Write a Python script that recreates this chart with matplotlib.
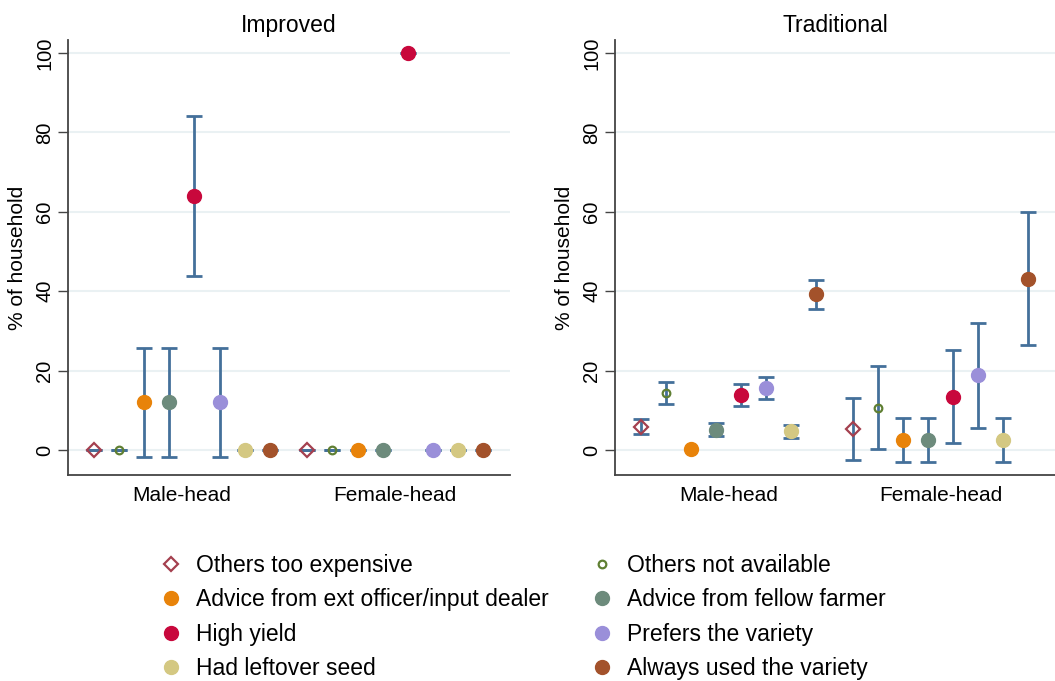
import numpy as np
import matplotlib
matplotlib.use("Agg")
from matplotlib import pyplot as plt
from matplotlib.lines import Line2D

plt.rcParams['font.family'] = ['Liberation Sans', 'DejaVu Sans']

reasons = ['Others too expensive', 'Others not available',
           'Advice from ext officer/input dealer', 'Advice from fellow farmer',
           'High yield', 'Prefers the variety',
           'Had leftover seed', 'Always used the variety']
groups = ['Male-head', 'Female-head']

# Improved: mean, lower CI, upper CI (male then female)
imp_male = [0, 0, 12, 12, 64, 12, 0, 0]
imp_male_lo = [0, 0, -1.7, -1.7, 43.8, -1.7, 0, 0]
imp_male_hi = [0, 0, 25.7, 25.7, 84.2, 25.7, 0, 0]
imp_female = [0, 0, 0, 0, 100, 0, 0, 0]
imp_female_lo = [0, 0, 0, 0, 100, 0, 0, 0]
imp_female_hi = [0, 0, 0, 0, 100, 0, 0, 0]

# Traditional
trad_male = [5.9, 14.3, 0.3, 5.1, 13.9, 15.7, 4.7, 39.2]
trad_male_lo = [4.0, 11.6, np.nan, 3.4, 11.1, 12.8, 3.0, 35.4]
trad_male_hi = [7.7, 17.2, np.nan, 6.9, 16.7, 18.5, 6.4, 42.9]
trad_female = [5.2, 10.6, 2.6, 2.6, 13.4, 18.8, 2.6, 43.2]
trad_female_lo = [-2.4, 0.2, -2.9, -2.9, 1.8, 5.6, -2.9, 26.4]
trad_female_hi = [13.0, 21.2, 8.1, 8.1, 25.1, 32.1, 8.1, 60.0]

colors = ['#a4404f', '#5f7f32', '#e8830a', '#6d8b7c',
          '#c8083c', '#9a8fd9', '#d4c882', '#a3522b']
markers = ['D', 'o', 'o', 'o', 'o', 'o', 'o', 'o']
hollow = [True, True, False, False, False, False, False, False]
msizes = [6.8, 5.5, 10, 10, 10, 10, 10, 10]
errc = '#44709a'

x_male = np.arange(1, 9)
x_female = np.arange(9.5, 17.5)

fig = plt.figure(figsize=(10.55, 6.81), dpi=100)
ax1 = fig.add_axes([0.0645, 0.3025, 0.419, 0.6388])
ax2 = fig.add_axes([0.583, 0.3025, 0.417, 0.6388])


def draw(ax, title, panels):
    for yy in [0, 20, 40, 60, 80, 100]:
        ax.axhline(yy, color='#eaf1f3', lw=1.5, zorder=0)
    for xs, vals, lo, hi in panels:
        for i in range(8):
            if not np.isnan(lo[i]):
                ax.errorbar([xs[i]], [vals[i]],
                            yerr=[[vals[i] - lo[i]], [hi[i] - vals[i]]],
                            fmt='none', ecolor=errc, elinewidth=2,
                            capsize=6, capthick=2, zorder=2)
            if hollow[i]:
                ax.plot(xs[i], vals[i], marker=markers[i], ms=msizes[i],
                        mfc='none', mec=colors[i], mew=1.6, ls='none', zorder=3)
            else:
                ax.plot(xs[i], vals[i], marker=markers[i], ms=msizes[i],
                        mfc=colors[i], mec=colors[i], ls='none', zorder=3)
    ax.set_xlim(-0.04, 17.58)
    ax.set_ylim(-6.3, 103.3)
    ax.set_yticks([0, 20, 40, 60, 80, 100])
    ax.set_xticks([4.5, 13])
    ax.set_xticklabels(groups, fontsize=15)
    ax.tick_params(axis='x', length=0, pad=8)
    ax.tick_params(axis='y', length=7, width=1, color='#444444',
                   labelsize=14.5, labelrotation=90, pad=3)
    for lab in ax.get_yticklabels():
        lab.set_va('center')
    ax.spines['top'].set_visible(False)
    ax.spines['right'].set_visible(False)
    for s in ['left', 'bottom']:
        ax.spines[s].set_color('#444444')
        ax.spines[s].set_linewidth(1.3)
    ax.set_ylabel('% of household', fontsize=15, labelpad=6)
    ax.set_title(title, fontsize=16.5, pad=6)


draw(ax1, 'Improved', [(x_male, imp_male, imp_male_lo, imp_male_hi),
                       (x_female, imp_female, imp_female_lo, imp_female_hi)])
draw(ax2, 'Traditional', [(x_male, trad_male, trad_male_lo, trad_male_hi),
                          (x_female, trad_female, trad_female_lo, trad_female_hi)])

handles = []
for i in range(8):
    if hollow[i]:
        h = Line2D([], [], marker=markers[i], ms=msizes[i], mfc='none',
                   mec=colors[i], mew=1.6, ls='none')
    else:
        h = Line2D([], [], marker=markers[i], ms=10, mfc=colors[i],
                   mec=colors[i], ls='none')
    handles.append(h)
# order so that rows read left-right like the reference
order = [0, 2, 4, 6, 1, 3, 5, 7]
fig.legend([handles[i] for i in order], [reasons[i] for i in order],
           ncol=2, loc='upper left', bbox_to_anchor=(0.14, 0.2), frameon=False,
           fontsize=16.5, handletextpad=0.5, columnspacing=1.72,
           labelspacing=0.5, handlelength=1.2, borderaxespad=0)

fig.savefig('out.png', dpi=100)
